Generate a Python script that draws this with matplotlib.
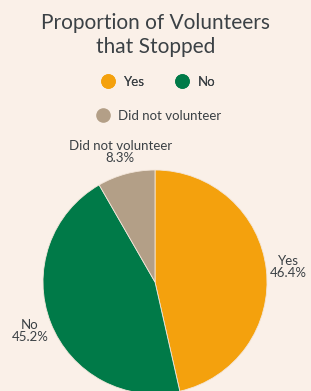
import matplotlib.pyplot as plt
from matplotlib.lines import Line2D

plt.rcParams["font.family"] = ["Lato", "DejaVu Sans"]

categories = ["Yes", "No", "Did not volunteer"]
shares = [46.4, 45.2, 8.3]
colors = ["#f4a10d", "#007a48", "#b39f87"]

BG = "#faf0e8"
TEXT = "#3b4145"


def main() -> None:
    fig = plt.figure(figsize=(3.11, 3.91), dpi=100, facecolor=BG)

    fig.text(0.5, 1 - 35 / 391, "Proportion of Volunteers\nthat Stopped",
             ha="center", va="center", fontsize=15, color=TEXT,
             linespacing=1.25)

    # pie axes: centre ~ (155, 282) px, radius ~112 px
    w, h = 311, 391
    cx, cy, r = 155, 391 - 282, 112
    ax = fig.add_axes([(cx - r) / w, (cy - r) / h, 2 * r / w, 2 * r / h])
    ax.set_facecolor(BG)

    labels = [f"{c}\n{s}%" for c, s in zip(categories, shares)]
    wedges, texts = ax.pie(
        shares,
        labels=labels,
        colors=colors,
        startangle=90,
        counterclock=False,
        labeldistance=1.2,
        wedgeprops=dict(edgecolor="#f3e6da", linewidth=0.6),
        textprops=dict(color=TEXT, fontsize=9.5),
    )
    for t in texts:
        t.set_ha("center")
        t.set_multialignment("center")
        t.set_linespacing(1.0)
    ax.set_xlim(-1, 1)
    ax.set_ylim(-1, 1)
    for wd in wedges:
        wd.set_clip_on(False)

    def handle(c):
        return Line2D([], [], marker="o", linestyle="", markersize=9.5,
                      markerfacecolor=c, markeredgecolor=c)

    leg1 = fig.legend([handle(colors[0]), handle(colors[1])], categories[:2],
                      loc="center", bbox_to_anchor=(0.5, 1 - 82 / 391),
                      ncol=2, frameon=False, fontsize=9.5,
                      handletextpad=0.2, columnspacing=1.8,
                      labelcolor=TEXT)
    fig.add_artist(leg1)
    fig.legend([handle(colors[2])], categories[2:],
               loc="center", bbox_to_anchor=(0.5, 1 - 116 / 391),
               frameon=False, fontsize=9.5, handletextpad=0.2,
               labelcolor=TEXT)

    fig.savefig("out.png", dpi=100, facecolor=BG)


if __name__ == "__main__":
    main()
